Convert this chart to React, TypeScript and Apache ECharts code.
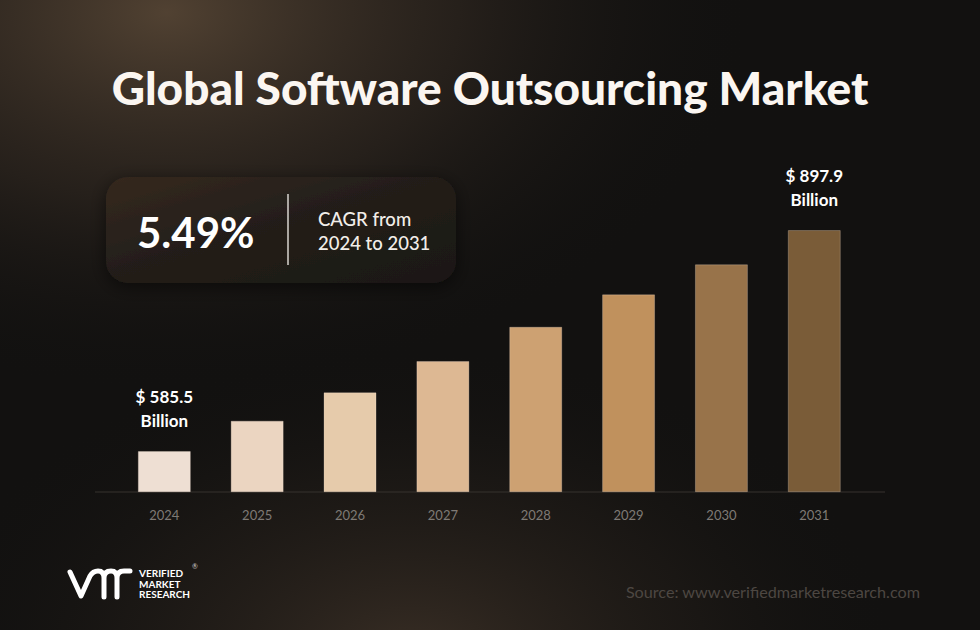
import React, { useEffect, useRef } from "react";
import * as echarts from "echarts";

const years = ["2024", "2025", "2026", "2027", "2028", "2029", "2030", "2031"];
const values = [585.5, 628.4, 668.5, 712.8, 761.2, 807.0, 849.5, 897.9];
const barColors = ["#eedfd3", "#ebd5c1", "#e6cbab", "#ddb893", "#cda172", "#c0915d", "#98734a", "#7a5c38"];
const labelledIndexes = [0, 7];
const titleText = "Global Software Outsourcing Market";
const cagrValue = "5.49%";
const cagrLines = ["CAGR from", "2024 to 2031"];
const sourceText = "Source: www.verifiedmarketresearch.com";
const logoLines = ["VERIFIED", "MARKET", "RESEARCH"];

const FONT = "Lato, 'Noto Sans', sans-serif";

let shapeRegistered = false;
function registerLogo() {
  if (shapeRegistered) return;
  shapeRegistered = true;
  const d =
    "M2 4 L13 28 L22 8 Q25 3 30 3 Q36 3 36 10 L36 29 M36 10 Q36 3 43 3 Q49 3 49 10 L49 29 M49 10 Q49 3 56 3 L62 3";
  echarts.graphic.registerShape("vmrlogo", echarts.graphic.extendPath(d, {}) as any);
}

export default function App() {
  const ref = useRef<HTMLDivElement>(null);

  useEffect(() => {
    if (!ref.current) return;
    registerLogo();
    const chart = echarts.init(ref.current, null, { renderer: "svg" });

    const option: any = {
      animation: false,
      backgroundColor: "#121110",
      grid: { left: 117.9, right: 119.3, top: 193.2, bottom: 138.3 },
      xAxis: {
        type: "category",
        data: years,
        axisLine: { show: false },
        axisTick: { show: false },
        axisLabel: { color: "#7f7a75", fontSize: 13, fontFamily: FONT, margin: 17 },
      },
      yAxis: {
        type: "value",
        min: 528,
        max: 950,
        show: false,
        splitLine: { show: false },
      },
      series: [
        {
          type: "bar",
          barWidth: 53,
          z: 3,
          data: values.map((v, i) => ({
            value: v,
            itemStyle: {
              color: barColors[i],
              borderColor: "rgba(255,240,225,0.25)",
              borderWidth: 1,
            },
            label: {
              show: labelledIndexes.includes(i),
              position: "top",
              distance: 19,
              formatter: `{a|$ ${v.toFixed(1)}}\n{a|Billion}`,
              rich: {
                a: {
                  color: "#ffffff",
                  fontSize: 17,
                  fontWeight: "bold",
                  fontFamily: FONT,
                  lineHeight: 24,
                  align: "center",
                },
              },
            },
          })),
        },
      ],
      graphic: [
        {
          type: "rect",
          z: -20,
          silent: true,
          shape: { x: 0, y: 0, width: 980, height: 630 },
          style: {
            fill: new echarts.graphic.RadialGradient(0.17, 0.02, 0.6, [
              { offset: 0, color: "rgba(92,74,56,0.85)" },
              { offset: 0.5, color: "rgba(62,50,40,0.45)" },
              { offset: 1, color: "rgba(18,17,16,0)" },
            ]),
          },
        },
        {
          type: "rect",
          z: -19,
          silent: true,
          shape: { x: 0, y: 0, width: 980, height: 630 },
          style: {
            fill: new echarts.graphic.RadialGradient(0.42, 1.05, 0.5, [
              { offset: 0, color: "rgba(70,56,44,0.75)" },
              { offset: 0.6, color: "rgba(45,37,30,0.3)" },
              { offset: 1, color: "rgba(18,17,16,0)" },
            ]),
          },
        },
        {
          type: "line",
          z: 2,
          silent: true,
          shape: { x1: 95, y1: 492, x2: 885, y2: 492 },
          style: { stroke: "#37322e", lineWidth: 1.2 },
        },
        {
          type: "text",
          z: 10,
          x: 490,
          y: 87,
          style: {
            text: titleText,
            fill: "#fbf6f1",
            font: `900 46px ${FONT}`,
            align: "center",
            verticalAlign: "middle",
          },
        },
        {
          type: "rect",
          z: 5,
          shape: { x: 106, y: 177, width: 350, height: 106, r: 22 },
          style: {
            fill: new echarts.graphic.LinearGradient(0, 0, 1, 1, [
              { offset: 0, color: "#35291f" },
              { offset: 0.5, color: "#221d19" },
              { offset: 1, color: "#1b1816" },
            ]),
            shadowBlur: 18,
            shadowColor: "rgba(0,0,0,0.55)",
            shadowOffsetY: 4,
          },
        },
        {
          type: "text",
          z: 6,
          x: 137,
          y: 232,
          style: {
            text: cagrValue,
            fill: "#ffffff",
            font: `bold 42px ${FONT}`,
            align: "left",
            verticalAlign: "middle",
          },
        },
        {
          type: "line",
          z: 6,
          shape: { x1: 288, y1: 194, x2: 288, y2: 265 },
          style: { stroke: "#d9d4cf", lineWidth: 1.5 },
        },
        {
          type: "text",
          z: 6,
          x: 318,
          y: 219,
          style: {
            text: cagrLines[0],
            fill: "#f2eee9",
            font: `500 18.5px ${FONT}`,
            align: "left",
            verticalAlign: "middle",
          },
        },
        {
          type: "text",
          z: 6,
          x: 318,
          y: 243,
          style: {
            text: cagrLines[1],
            fill: "#f2eee9",
            font: `500 18.5px ${FONT}`,
            align: "left",
            verticalAlign: "middle",
          },
        },
        {
          type: "text",
          z: 6,
          x: 920,
          y: 591,
          style: {
            text: sourceText,
            fill: "#4d4742",
            font: `16.2px ${FONT}`,
            align: "right",
            verticalAlign: "middle",
          },
        },
        {
          type: "vmrlogo",
          z: 6,
          x: 68,
          y: 568,
          scaleX: 1,
          scaleY: 1,
          style: {
            fill: "none",
            stroke: "#ffffff",
            lineWidth: 5,
            lineCap: "round",
            lineJoin: "round",
          },
        },
        ...logoLines.map((t, i) => ({
          type: "text",
          z: 6,
          x: 139,
          y: 573 + i * 10.5,
          style: {
            text: t,
            fill: "#ffffff",
            font: `bold 10px ${FONT}`,
            align: "left",
            verticalAlign: "middle",
          },
        })),
        {
          type: "text",
          z: 6,
          x: 195,
          y: 566,
          style: {
            text: "®",
            fill: "#cfcac5",
            font: `7px ${FONT}`,
            align: "center",
            verticalAlign: "middle",
          },
        },
      ],
    };

    chart.setOption(option);
    return () => chart.dispose();
  }, []);

  return (
    <div
      ref={ref}
      style={{ position: "fixed", left: 0, top: 0, width: 980, height: 630 }}
    />
  );
}
